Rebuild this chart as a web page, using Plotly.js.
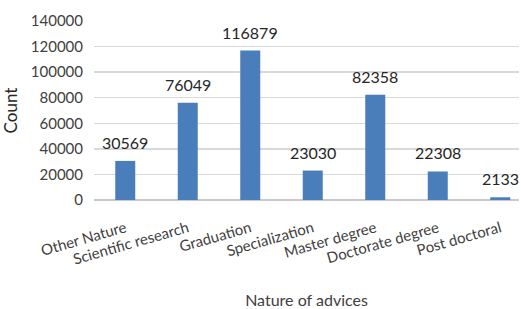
<!DOCTYPE html>
<html><head><meta charset="utf-8">
<script src="https://cdn.plot.ly/plotly-3.0.1.min.js"></script>
<style>html,body{margin:0;padding:0;background:#fff}#chart{width:521px;height:309px}</style>
</head><body><div id="chart"></div>
<script>
const categories = ["Other Nature","Scientific research","Graduation","Specialization","Master degree","Doctorate degree","Post doctoral"];
const counts = [30569, 76049, 116879, 23030, 82358, 22308, 2133];
const yTicks = [0,20000,40000,60000,80000,100000,120000,140000];

const FONT = "Lato, 'Open Sans', sans-serif";
const trace = {
  type: "bar", x: categories, y: counts,
  marker: {color: "#4a7ebb"}, width: 0.32, hoverinfo: "none"
};
const annotations = categories.map((c, i) => ({
  x: c, y: counts[i], xref: "x", yref: "y", text: String(counts[i]),
  showarrow: false, yanchor: "bottom", yshift: 7,
  font: {family: FONT, size: 16, color: "#262626"}
}));
const layout = {
  width: 521, height: 309,
  margin: {l: 94, r: 2, t: 21, b: 109},
  paper_bgcolor: "#fff", plot_bgcolor: "#fff",
  showlegend: false,
  annotations: annotations,
  xaxis: {
    range: [-0.5, 6.3], tickangle: -16, showgrid: false, zeroline: false,
    showline: false, ticks: "", ticklabelstandoff: 16,
    tickfont: {family: FONT, size: 15, color: "#404040"},
    title: {text: "Nature of advices", font: {family: FONT, size: 16, color: "#404040"}, standoff: 30}
  },
  yaxis: {
    range: [0, 140000], tickvals: yTicks, ticktext: yTicks.map(String),
    showgrid: true, gridcolor: "#d9d9d9", gridwidth: 1.5, zeroline: true, zerolinecolor: "#c8c8c8", zerolinewidth: 1.5,
    ticks: "", ticklabelstandoff: 10,
    tickfont: {family: FONT, size: 15, color: "#404040"},
    title: {text: "Count", font: {family: FONT, size: 17, color: "#262626"}, standoff: 12}
  }
};
Plotly.newPlot("chart", [trace], layout, {staticPlot: true, displayModeBar: false});
</script></body></html>
